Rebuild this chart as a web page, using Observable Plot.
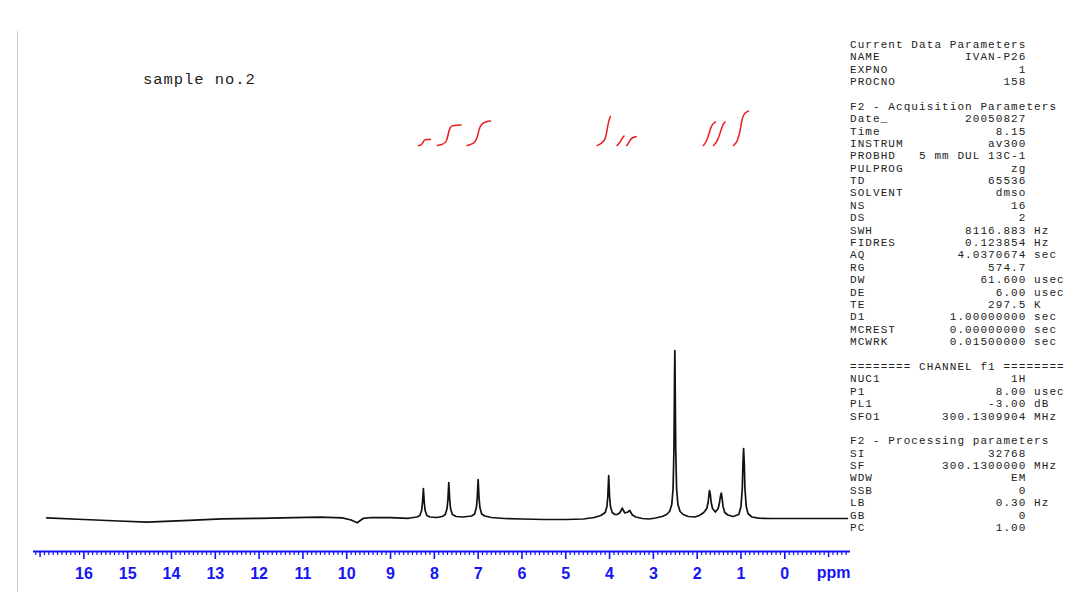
<!DOCTYPE html>
<html>
<head>
<meta charset="utf-8">
<script src="https://cdn.jsdelivr.net/npm/d3@7"></script>
<script src="https://cdn.jsdelivr.net/npm/@observablehq/plot@0.6"></script>
<style>
  html, body { margin: 0; padding: 0; background: #fff; }
  #wrap { position: relative; width: 1085px; height: 592px; overflow: hidden; }
  #chart { position: absolute; left: 0; top: 0; }
  #title { position: absolute; left: 143px; top: 70px; font-family: "Liberation Mono", "DejaVu Sans Mono", monospace; font-size: 15.5px; letter-spacing: 0.95px; color: #222; line-height: 20px; white-space: pre; }
  #params { position: absolute; left: 850px; top: 38.8px; font-family: "Liberation Mono", "DejaVu Sans Mono", monospace; font-size: 11px; letter-spacing: 1.07px; line-height: 12.39px; color: #222; white-space: pre; margin: 0; }
  #edge { position: absolute; left: 17px; top: 31px; width: 0; height: 561px; border-left: 1px solid #cfcfcf; }
</style>
</head>
<body>
<div id="wrap">
  <div id="edge"></div>
  <div id="chart"></div>
  <div id="title"></div>
  <pre id="params"></pre>
</div>
<script>
// ---------- data ----------
const titleText = "sample no.2";

// chemical shift (ppm) of each spectrum point
const specPpm = [
  16.85, 16.0, 15.2, 14.56, 13.6, 12.85, 12.0, 11.2, 10.6, 10.1, 9.9, 9.76, 9.62, 9.45, 9.0, 8.6,
  8.55, 8.40, 8.33, 8.29, 8.27, 8.25, 8.23, 8.21, 8.17, 8.10, 7.95,
  7.82, 7.75, 7.71, 7.69, 7.67, 7.65, 7.63, 7.59, 7.50, 7.35,
  7.15, 7.08, 7.04, 7.02, 7.00, 6.98, 6.96, 6.92, 6.85, 6.70, 6.4, 6.0, 5.5, 5.0, 4.6, 4.35,
  4.20, 4.10, 4.06, 4.04, 4.02, 4.00, 3.98, 3.94, 3.88, 3.83,
  3.77, 3.73, 3.71, 3.69, 3.65,
  3.58, 3.56, 3.54, 3.52, 3.48, 3.40, 3.25, 3.10,
  2.95, 2.80, 2.70, 2.63, 2.58, 2.55, 2.53, 2.515, 2.51, 2.505, 2.49, 2.47, 2.44, 2.39, 2.32, 2.20, 2.05, 1.95,
  1.85, 1.78, 1.75, 1.73, 1.72, 1.70, 1.68, 1.65, 1.585,
  1.52, 1.49, 1.47, 1.45, 1.43, 1.41, 1.37, 1.30, 1.18, 1.05,
  1.00, 0.97, 0.955, 0.94, 0.925, 0.91, 0.88, 0.84, 0.75, 0.6, 0.3, -0.5, -1.0, -1.43
];
// intensity above the baseline (arbitrary units) at each point
const specInt = [
  0.7, -1, -2.5, -3.7, -1.8, -0.3, 0.2, 0.8, 1.3, 0.6, -1.5, -4.3, 0.2, 1.0, 0.8, 0.2,
  0.5, 1.5, 3, 8, 16, 30, 16, 8, 3, 1.5, 1,
  2, 4, 10, 19, 36, 19, 10, 4, 2, 1.5,
  2.5, 4.5, 11, 21, 39, 21, 11, 4.5, 2.5, 1, 0, -0.5, -1, -1, -0.5, 1,
  3, 6, 12, 22, 43, 22, 12, 6, 4, 4,
  5.5, 8.5, 10.5, 8.5, 5.5,
  6.5, 7.5, 8, 6.5, 3.5, 1.5, 0, -0.5,
  0.5, 2, 4, 7, 14, 30, 70, 150, 168, 150, 70, 30, 14, 7, 4, 2, 1.5, 3,
  6, 10, 16, 24, 28, 24, 16, 10, 6.5,
  10, 16, 22, 25.5, 20, 12, 6, 3.5, 2, 4,
  12, 30, 55, 70, 55, 30, 12, 5, 1.5, 0.3, 0, 0, 0, 0
];

// integral traces: [ppm, integral height]
const integralA = [[8.36, 0], [8.30, 0.5], [8.27, 2], [8.25, 4], [8.23, 5.5], [8.18, 6], [8.09, 6]];
const integralB = [[7.93, 0], [7.80, 1], [7.72, 4], [7.69, 10], [7.66, 16], [7.62, 19.5], [7.55, 20], [7.39, 20.5]];
const integralC = [[7.25, 0], [7.12, 1.5], [7.04, 5], [7.00, 12], [6.96, 19], [6.90, 22.5], [6.80, 24], [6.72, 24.5]];
const integralD = [[4.28, 0], [4.18, 2], [4.10, 6], [4.07, 12], [4.04, 20], [4.01, 26], [3.98, 29]];
const integralE = [[3.83, 0], [3.78, 2], [3.74, 5], [3.70, 8], [3.67, 9.5]];
const integralF = [[3.61, 0], [3.57, 2], [3.53, 5.5], [3.48, 8], [3.39, 9]];
const integralG = [[1.86, 0], [1.80, 3], [1.75, 9], [1.71, 15], [1.67, 20], [1.62, 22.5], [1.58, 23.5]];
const integralH = [[1.63, 0], [1.56, 3], [1.50, 9], [1.46, 15], [1.42, 20], [1.39, 22.5], [1.36, 23.5]];
const integralI = [[1.17, 0], [1.10, 3], [1.04, 10], [1.00, 20], [0.97, 28], [0.92, 32.5], [0.83, 34.5]];

// axis tick labels
const majorTicks = [16, 15, 14, 13, 12, 11, 10, 9, 8, 7, 6, 5, 4, 3, 2, 1, 0];
const unitLabel = ["ppm"];

// parameter listing: [label, value, unit]
const currentParams = [["NAME", "IVAN-P26", ""], ["EXPNO", "1", ""], ["PROCNO", "158", ""]];
const acquParams = [
  ["Date_", "20050827", ""], ["Time", "8.15", ""], ["INSTRUM", "av300", ""],
  ["PROBHD", "5 mm DUL 13C-1", ""], ["PULPROG", "zg", ""], ["TD", "65536", ""],
  ["SOLVENT", "dmso", ""], ["NS", "16", ""], ["DS", "2", ""],
  ["SWH", "8116.883", "Hz"], ["FIDRES", "0.123854", "Hz"], ["AQ", "4.0370674", "sec"],
  ["RG", "574.7", ""], ["DW", "61.600", "usec"], ["DE", "6.00", "usec"],
  ["TE", "297.5", "K"], ["D1", "1.00000000", "sec"], ["MCREST", "0.00000000", "sec"],
  ["MCWRK", "0.01500000", "sec"]
];
const channelParams = [["NUC1", "1H", ""], ["P1", "8.00", "usec"], ["PL1", "-3.00", "dB"], ["SFO1", "300.1309904", "MHz"]];
const procParams = [
  ["SI", "32768", ""], ["SF", "300.1300000", "MHz"], ["WDW", "EM", ""],
  ["SSB", "0", ""], ["LB", "0.30", "Hz"], ["GB", "0", ""], ["PC", "1.00", ""]
];

// ---------- build ----------
const spectrum = specPpm.map((p, i) => ({ppm: p, v: specInt[i]}));
const integrals = [integralA, integralB, integralC, integralD, integralE, integralF, integralG, integralH, integralI]
  .flatMap((arr, k) => arr.map(([p, v]) => ({id: k, ppm: p, v})));

const xDomain = [17.15, -1.5];
const yDomain = [-33, 518];
const integralBase = 373;
const blue = "#1414f5";
const minorTicks = d3.range(-14, 172).map(i => i / 10).filter(t => Math.abs(t - Math.round(t)) > 1e-6);

const chart = Plot.plot({
  width: 1085,
  height: 592,
  marginLeft: 33,
  marginRight: 235,
  marginTop: 0,
  marginBottom: 41,
  style: {background: "transparent", overflow: "visible"},
  x: {domain: xDomain},
  y: {domain: yDomain, axis: null},
  marks: [
    Plot.axisX({ticks: minorTicks, tickSize: 4, text: null, label: null, color: blue, strokeWidth: 1.2}),
    Plot.axisX({ticks: [17, -1], tickSize: 6, text: null, label: null, color: blue, strokeWidth: 1.5}),
    Plot.axisX({ticks: majorTicks, tickSize: 8, tickPadding: 8, tickFormat: d => String(d), label: null,
      color: blue, strokeWidth: 1.6, fontSize: 16, fontWeight: "bold", fontFamily: "Liberation Sans, Arial, sans-serif"}),
    Plot.ruleY([yDomain[0]], {stroke: blue, strokeWidth: 2.2}),
    Plot.text(unitLabel, {frameAnchor: "bottom-right", text: d => d, dy: 21, textAnchor: "end", lineAnchor: "middle",
      fontSize: 16, fontWeight: "bold", fontFamily: "Liberation Sans, Arial, sans-serif", fill: blue}),
    Plot.line(spectrum, {x: "ppm", y: "v", stroke: "#111", strokeWidth: 1.7, strokeLinejoin: "round"}),
    Plot.line(integrals, {x: "ppm", y: d => integralBase + d.v, z: "id", stroke: "#ee1c1c", strokeWidth: 1.5, curve: "basis"})
  ]
});
document.getElementById("chart").appendChild(chart);
document.getElementById("title").textContent = titleText;

function row([label, value, unit]) {
  const left = label.padEnd(23 - value.length, " ") + value;
  return unit ? left + " " + unit : left;
}
const lines = [
  "Current Data Parameters", ...currentParams.map(row), "",
  "F2 - Acquisition Parameters", ...acquParams.map(row), "",
  "======== CHANNEL f1 ========", ...channelParams.map(row), "",
  "F2 - Processing parameters", ...procParams.map(row)
];
document.getElementById("params").textContent = lines.join("\n");
</script>
</body>
</html>
